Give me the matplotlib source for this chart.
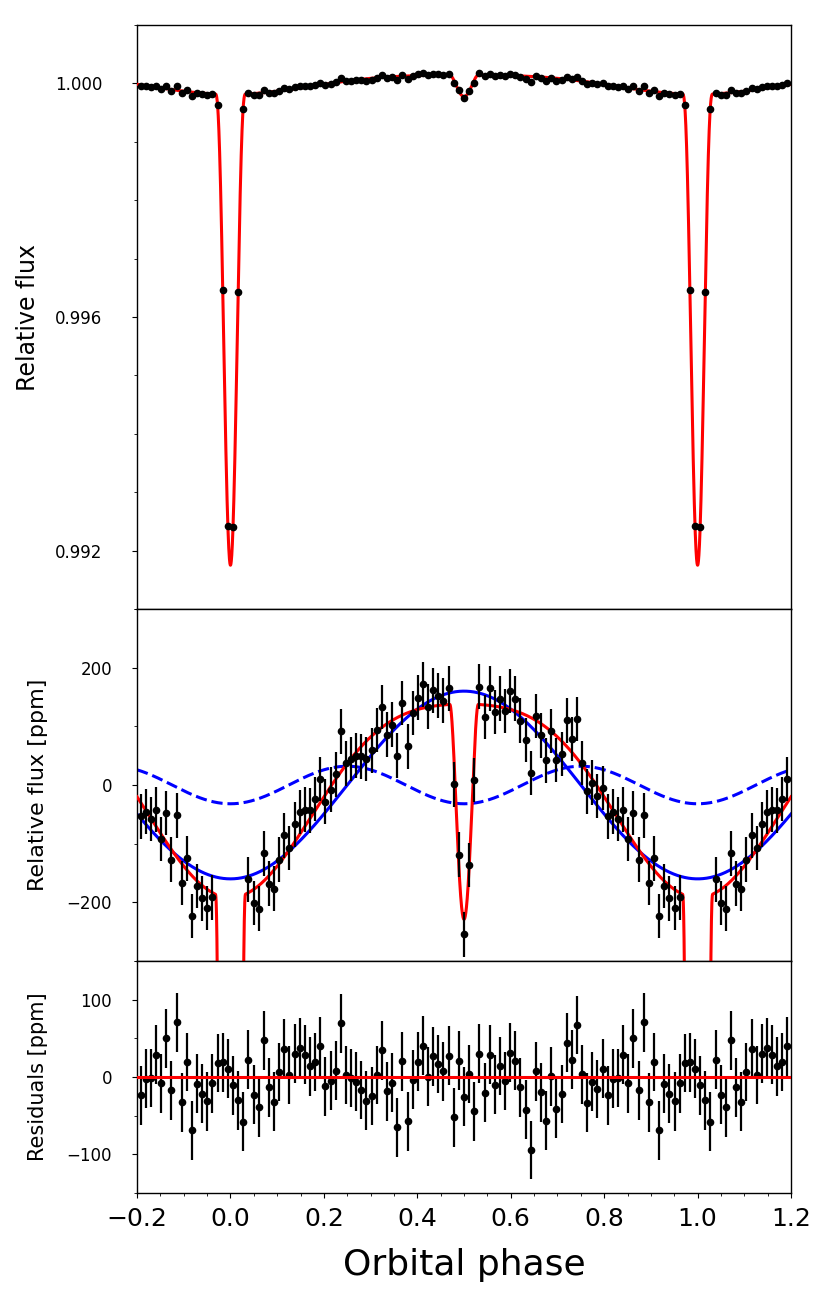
import numpy as np
import matplotlib
matplotlib.use("Agg")
import matplotlib.pyplot as plt
from matplotlib.ticker import MultipleLocator, FormatStrFormatter

# ---------------- data ----------------
# binned residuals (ppm) for 91 phase bins centred at (k+0.5)/91, k = 0..90
n_bins = 91
resid_ppm = [
    -10.8, -30.3, -58.0, 22.5, -23.0, -39.4, 47.2, -13.4, -32.0, 6.5,
    36.4, 2.6, 30.3, 38.1, 28.6, 13.9, 19.5, 39.8, -12.1, -4.8,
    8.2, 69.3, 2.6, -1.3, -6.1, -16.9, -30.7, -24.7, 2.6, 34.6,
    -18.6, -7.4, -64.9, 20.3, -57.1, -3.5, 19.9, 40.7, 0.4, 26.8,
    16.9, 7.4, 27.7, -51.9, 21.2, -25.5, 3.9, -44.6, 30.3, -20.3,
    29.0, -10.0, 14.3, -5.2, 31.2, 21.2, -13.4, -42.4, -94.4, 7.4,
    -19.9, -56.3, 0.9, -41.1, -22.1, 44.2, 22.5, 67.1, 3.5, -33.3,
    -6.1, -15.6, 10.8, -23.8, -2.2, -1.3, 28.6, -8.2, 49.8, -17.3,
    70.6, -32.9, 19.5, -68.8, -8.7, -21.6, -31.6, -8.2, 18.2, 19.0,
    10.8,
]
err_ppm = 38.0

# ---------------- model parameters ----------------
refl_amp_ppm = 160.0        # blue solid curve amplitude
ellip_amp_ppm = 32.0        # blue dashed curve amplitude
night_offset_ppm = 10.0     # extra planetary term in full model
transit_depth_ppm = 8063.0
transit_halfwidth = 0.0325
transit_power = 2.94
eclipse_depth_ppm = 367.0
eclipse_halfwidth = 0.0305
eclipse_power = 2.0
top_offset_ppm = 5.0

x_limits = (-0.2, 1.2)
x_ticks = [-0.2, 0.0, 0.2, 0.4, 0.6, 0.8, 1.0, 1.2]
top_ylim = (0.991, 1.001)
mid_ylim = (-300, 300)
res_ylim = (-150, 150)

xlabel = "Orbital phase"
ylabel_top = "Relative flux"
ylabel_mid = "Relative flux [ppm]"
ylabel_res = "Residuals [ppm]"


# ---------------- model ----------------
def wrap(ph, centre):
    return (ph - centre + 0.5) % 1.0 - 0.5


def dip_shape(dphi, halfwidth, power):
    u = np.clip(1.0 - (dphi / halfwidth) ** 2, 0.0, None)
    return u ** power


def reflection(ph):
    return -refl_amp_ppm * np.cos(2 * np.pi * ph)


def ellipsoidal(ph):
    return -ellip_amp_ppm * np.cos(4 * np.pi * ph)


def full_model(ph):
    out = reflection(ph) + ellipsoidal(ph)
    out = out + night_offset_ppm * (1 - np.cos(2 * np.pi * ph)) / 2
    out = out - transit_depth_ppm * dip_shape(wrap(ph, 0.0), transit_halfwidth, transit_power)
    out = out - eclipse_depth_ppm * dip_shape(wrap(ph, 0.5), eclipse_halfwidth, eclipse_power)
    return out


grid = np.linspace(x_limits[0], x_limits[1], 7001)

base_phase = (np.arange(n_bins) + 0.5) / n_bins
ph_all = np.concatenate([base_phase - 1, base_phase, base_phase + 1])
res_all = np.tile(np.asarray(resid_ppm), 3)
keep = (ph_all >= x_limits[0]) & (ph_all <= x_limits[1])
ph = ph_all[keep]
res = res_all[keep]

mid_data = full_model(ph) + res
top_data = 1 + (mid_data + top_offset_ppm) * 1e-6

# ---------------- figure ----------------
fig = plt.figure(figsize=(8.31, 12.97), dpi=100)
gs = fig.add_gridspec(3, 1, height_ratios=[584, 352, 232], hspace=0,
                      left=0.1649, right=0.9519, top=0.9807, bottom=0.0802)
ax1 = fig.add_subplot(gs[0])
ax2 = fig.add_subplot(gs[1], sharex=ax1)
ax3 = fig.add_subplot(gs[2], sharex=ax1)

red = "#ff0000"
blue = "#0000ff"

# top panel
ax1.plot(grid, 1 + (full_model(grid) + top_offset_ppm) * 1e-6, color=red, lw=2.2, zorder=3)
ax1.errorbar(ph, top_data, yerr=err_ppm * 1e-6, fmt="o", color="k", ms=4.5,
             elinewidth=1.5, capsize=0, zorder=5)
ax1.set_ylim(*top_ylim)
ax1.yaxis.set_major_locator(MultipleLocator(0.004))
ax1.yaxis.set_minor_locator(MultipleLocator(0.001))
ax1.yaxis.set_major_formatter(FormatStrFormatter("%.3f"))
ax1.set_ylabel(ylabel_top, fontsize=17)

# middle panel
ax2.plot(grid, reflection(grid), color=blue, lw=2.2, zorder=2)
ax2.plot(grid, ellipsoidal(grid), color=blue, lw=2.2, ls="--", zorder=2)
ax2.plot(grid, full_model(grid), color=red, lw=2.2, zorder=3)
ax2.errorbar(ph, mid_data, yerr=err_ppm, fmt="o", color="k", ms=4.5,
             elinewidth=1.6, capsize=0, zorder=5)
ax2.set_ylim(*mid_ylim)
ax2.yaxis.set_major_locator(MultipleLocator(200))
ax2.yaxis.set_minor_locator(MultipleLocator(100))
ax2.set_ylabel(ylabel_mid, fontsize=16)

# residual panel
ax3.errorbar(ph, res, yerr=err_ppm, fmt="o", color="k", ms=4.5,
             elinewidth=1.6, capsize=0, zorder=3)
ax3.axhline(0, color=red, lw=2.2, zorder=4)
ax3.set_ylim(*res_ylim)
ax3.yaxis.set_major_locator(MultipleLocator(100))
ax3.yaxis.set_minor_locator(MultipleLocator(50))
ax3.set_ylabel(ylabel_res, fontsize=15)

ax3.set_xlim(*x_limits)
ax3.set_xticks(x_ticks)
ax3.xaxis.set_minor_locator(MultipleLocator(0.05))
ax3.set_xlabel(xlabel, fontsize=26, labelpad=12)
ax3.tick_params(axis="x", which="major", labelsize=18, pad=6.5)

for ax in (ax1, ax2):
    ax.tick_params(axis="x", which="both", bottom=False, labelbottom=False)

for ax in (ax1, ax2, ax3):
    ax.tick_params(axis="y", labelsize=12)
    for s in ax.spines.values():
        s.set_linewidth(1.0)

ax1.tick_params(axis="y", which="major", pad=21.5)
ax2.tick_params(axis="y", which="major", pad=14.4)
ax3.tick_params(axis="y", which="major", pad=14.4)

ax1.yaxis.set_label_coords(-0.148, 0.5)
ax2.yaxis.set_label_coords(-0.136, 0.5)
ax3.yaxis.set_label_coords(-0.136, 0.5)

fig.savefig("out.png", dpi=100)
